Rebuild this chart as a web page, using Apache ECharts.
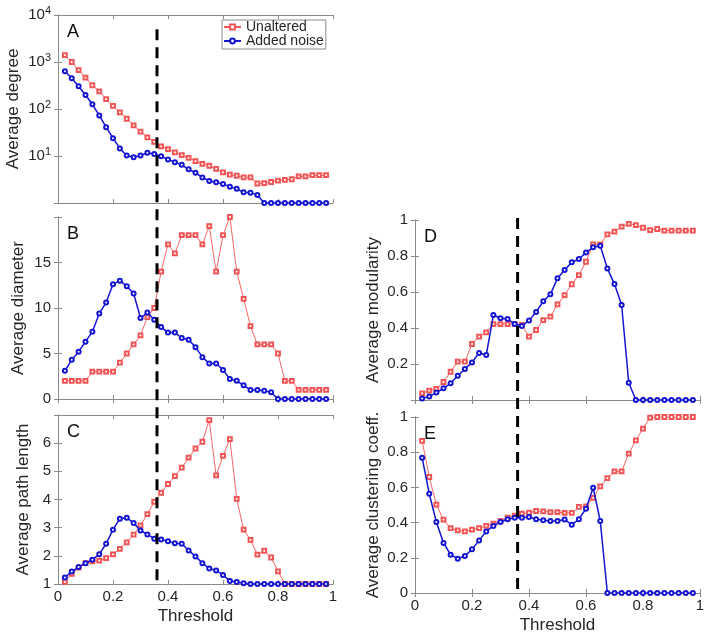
<!DOCTYPE html>
<html>
<head>
<meta charset="utf-8">
<script src="https://cdn.jsdelivr.net/npm/echarts@6/dist/echarts.min.js"></script>
<style>
  html, body { margin: 0; padding: 0; background: #fff; }
  #main { width: 710px; height: 635px; }
</style>
</head>
<body>
<div id="main"></div>
<script>
// thresholds (x) shared by every panel
const thresholds = [0.025, 0.05, 0.075, 0.1, 0.125, 0.15, 0.175, 0.2, 0.225, 0.25,
  0.275, 0.3, 0.325, 0.35, 0.375, 0.4, 0.425, 0.45, 0.475, 0.5,
  0.525, 0.55, 0.575, 0.6, 0.625, 0.65, 0.675, 0.7, 0.725, 0.75,
  0.775, 0.8, 0.825, 0.85, 0.875, 0.9, 0.925, 0.95, 0.975];
const cutoff = 0.36;

// A - average degree (log scale)
const degreeUnaltered = [1400, 1000, 670, 465, 320, 238, 163, 116, 85, 62,
  45, 33, 25, 20, 16, 14, 12, 10.4, 9.1, 7.8,
  6.8, 6.2, 5.3, 4.5, 4.0, 3.8, 3.5, 3.5, 2.6, 2.65,
  2.8, 3.0, 3.1, 3.2, 3.7, 3.7, 3.9, 3.9, 3.9];
const degreeNoise = [637, 452, 305, 199, 126, 73, 41, 24, 14.5, 10.2,
  9.4, 10.2, 11.7, 11, 9.9, 8.4, 7.4, 6.5, 5.2, 4.4,
  3.5, 2.95, 2.76, 2.55, 2.23, 2.0, 1.69, 1.66, 1.48, 1,
  1, 1, 1, 1, 1, 1, 1, 1, 1];
// B - average diameter
const diameterUnaltered = [2, 2, 2, 2, 3, 3, 3, 3, 4, 5,
  6, 7, 9, 10, 14, 17, 16, 18, 18, 18,
  17, 19, 14, 18, 20, 14, 11, 8, 6, 6,
  6, 5, 2, 2, 1, 1, 1, 1, 1];
const diameterNoise = [3.1, 4.3, 5.2, 6.3, 7.4, 9.4, 10.6, 12.6, 13.0, 12.4,
  11.6, 8.9, 9.5, 8.7, 7.9, 7.3, 7.3, 6.7, 6.5, 5.7,
  4.6, 3.9, 3.9, 3.2, 2.2, 2.0, 1.5, 1.0, 1.0, 0.9,
  0.75, 0, 0, 0, 0, 0, 0, 0, 0];
// C - average path length
const pathUnaltered = [1.08, 1.36, 1.58, 1.74, 1.8, 1.83, 1.92, 2.05, 2.25, 2.48,
  2.75, 3.08, 3.48, 3.92, 4.24, 4.55, 4.83, 5.13, 5.49, 5.81,
  6.05, 6.82, 4.86, 5.55, 6.14, 4.02, 2.93, 2.57, 2.04, 2.18,
  1.94, 1.45, 1, 1, 1, 1, 1, 1, 1];
const pathNoise = [1.23, 1.44, 1.6, 1.74, 1.86, 2.06, 2.43, 2.93, 3.32, 3.35,
  3.17, 2.9, 2.76, 2.61, 2.58, 2.52, 2.45, 2.43, 2.19, 1.98,
  1.74, 1.55, 1.48, 1.32, 1.11, 1.07, 1.03, 1, 1, 1,
  1, 1, 1, 1, 1, 1, 1, 1, 1];
// D - average modularity
const modUnaltered = [0.037, 0.052, 0.061, 0.10, 0.157, 0.213, 0.213, 0.311, 0.352, 0.376,
  0.422, 0.422, 0.422, 0.422, 0.417, 0.352, 0.389, 0.444, 0.463, 0.531,
  0.583, 0.643, 0.694, 0.768, 0.865, 0.865, 0.92, 0.935, 0.963, 0.978,
  0.972, 0.957, 0.944, 0.95, 0.941, 0.941, 0.941, 0.941, 0.941];
const modNoise = [0.009, 0.019, 0.041, 0.065, 0.093, 0.135, 0.172, 0.209, 0.261, 0.25,
  0.472, 0.454, 0.45, 0.422, 0.411, 0.441, 0.489, 0.548, 0.587, 0.676,
  0.722, 0.765, 0.783, 0.819, 0.848, 0.857, 0.731, 0.644, 0.528, 0.096,
  0, 0, 0, 0, 0, 0, 0, 0, 0];
// E - average clustering coefficient
const clustUnaltered = [0.864, 0.659, 0.502, 0.417, 0.369, 0.356, 0.35, 0.36, 0.369, 0.381,
  0.394, 0.409, 0.428, 0.439, 0.451, 0.456, 0.466, 0.464, 0.46, 0.46,
  0.455, 0.455, 0.489, 0.492, 0.54, 0.606, 0.653, 0.691, 0.691, 0.792,
  0.867, 0.934, 0.996, 1, 1, 1, 1, 1, 1];
const clustNoise = [0.769, 0.564, 0.403, 0.284, 0.218, 0.195, 0.21, 0.248, 0.299, 0.35,
  0.381, 0.403, 0.419, 0.428, 0.428, 0.432, 0.419, 0.413, 0.409, 0.409,
  0.417, 0.388, 0.419, 0.479, 0.598, 0.409, 0, 0, 0, 0,
  0, 0, 0, 0, 0, 0, 0, 0, 0];

const font = "'Liberation Sans', Arial, sans-serif";
const frameColor = "#8a8a8a";
const textColor = "#262626";
const red = "#f25555";
const blue = "#1414d2";

const panels = [
  { tag: "A", name: "Average degree", box: { left: 58, top: 15, width: 275, height: 188 },
    y: { type: "log", min: 1, max: 10000 }, gap: 36, xLabels: false,
    red: degreeUnaltered, blue: degreeNoise },
  { tag: "B", name: "Average diameter", box: { left: 58, top: 217, width: 275, height: 182 },
    y: { type: "value", min: 0, max: 20, interval: 5 }, hide: 20, gap: 31, xLabels: false,
    red: diameterUnaltered, blue: diameterNoise },
  { tag: "C", name: "Average path length", box: { left: 58, top: 415, width: 275, height: 169 },
    y: { type: "value", min: 1, max: 7, interval: 1 }, hide: 7, gap: 26, xLabels: true,
    red: pathUnaltered, blue: pathNoise },
  { tag: "D", name: "Average modularity", box: { left: 415, top: 220, width: 285, height: 180 },
    y: { type: "value", min: 0, max: 1, interval: 0.2 }, hide: 0, gap: 33, xLabels: false,
    red: modUnaltered, blue: modNoise },
  { tag: "E", name: "Average clustering coeff.", box: { left: 415, top: 417, width: 285, height: 176 },
    y: { type: "value", min: 0, max: 1, interval: 0.2 }, gap: 33, xLabels: true,
    red: clustUnaltered, blue: clustNoise },
];

const tickStyle = { show: true, inside: true, length: 4, lineStyle: { color: frameColor } };
const lineAxis = { show: true, lineStyle: { color: frameColor, width: 1 } };

const grid = [], xAxis = [], yAxis = [], series = [], title = [];
panels.forEach((p, i) => {
  grid.push(Object.assign({ show: false }, p.box));
  title.push({
    text: p.tag, left: p.box.left + 9, top: p.box.top + 8, padding: 0,
    textStyle: { fontSize: 18, fontWeight: "normal", color: "#111", fontFamily: font },
  });
  // bottom and mirrored top x axes
  xAxis.push({
    gridIndex: i, type: "value", min: 0, max: 1, interval: 0.2, position: "bottom",
    axisLine: lineAxis, axisTick: tickStyle, splitLine: { show: false },
    axisLabel: { show: p.xLabels, fontSize: 15, color: textColor, fontFamily: font, margin: 5 },
    name: p.xLabels ? "Threshold" : "", nameLocation: "middle", nameGap: 24,
    nameTextStyle: { fontSize: 17, color: textColor, fontFamily: font },
  });
  xAxis.push({
    gridIndex: i, type: "value", min: 0, max: 1, interval: 0.2, position: "top",
    axisLine: lineAxis, axisTick: tickStyle, splitLine: { show: false },
    axisLabel: { show: false },
  });
  const yBase = Object.assign({ gridIndex: i, splitLine: { show: false },
    axisLine: lineAxis, axisTick: tickStyle }, p.y);
  let fmt;
  if (p.y.type === "log") {
    fmt = v => v === 1 ? "" : "{b|10}{s|" + Math.round(Math.log10(v)) + "}";
  } else {
    fmt = v => (p.hide !== undefined && Math.abs(v - p.hide) < 1e-9) ? "" : String(+v.toFixed(2));
  }
  yAxis.push(Object.assign({}, yBase, {
    position: "left",
    name: p.name, nameLocation: "middle", nameGap: p.gap, nameRotate: 90,
    nameTextStyle: { fontSize: 17, color: textColor, fontFamily: font },
    axisLabel: {
      show: true, fontSize: 15, color: textColor, fontFamily: font, margin: 7, formatter: fmt,
      rich: {
        b: { fontSize: 15, color: textColor, fontFamily: font },
        s: { fontSize: 11, color: textColor, fontFamily: font, verticalAlign: "top", padding: [0, 0, 8, 0] },
      },
    },
  }));
  yAxis.push(Object.assign({}, yBase, { position: "right", axisLabel: { show: false } }));

  series.push({
    name: "Unaltered", type: "line", xAxisIndex: 2 * i, yAxisIndex: 2 * i,
    data: thresholds.map((t, k) => [t, p.red[k]]),
    symbol: "emptyRect", symbolSize: 3.8, showAllSymbol: true,
    lineStyle: { color: red, width: 0.9 },
    itemStyle: { color: red, borderWidth: 0.8 }, z: 2,
  });
  series.push({
    name: "Added noise", type: "line", xAxisIndex: 2 * i, yAxisIndex: 2 * i,
    data: thresholds.map((t, k) => [t, p.blue[k]]),
    symbol: "emptyCircle", symbolSize: 4, showAllSymbol: true,
    lineStyle: { color: blue, width: 1.5 },
    itemStyle: { color: blue, borderWidth: 0.9 }, z: 3,
  });
});

const chart = echarts.init(document.getElementById("main"));
chart.setOption({
  backgroundColor: "#fff",
  animation: false,
  title: title,
  legend: {
    data: ["Unaltered", "Added noise"], orient: "vertical", left: 222, top: 20,
    backgroundColor: "#fff", borderColor: frameColor, borderWidth: 1, borderRadius: 0,
    padding: [0, 2, 1, 1], itemGap: 0, itemWidth: 17, itemHeight: 6,
    textStyle: { fontSize: 14, color: textColor, fontFamily: font, lineHeight: 12 },
  },
  grid: grid,
  xAxis: xAxis,
  yAxis: yAxis,
  series: series,
});

// vertical dashed threshold lines, placed through the axes' own scales
const dash = { stroke: "#000", lineWidth: 3, lineDash: [11, 7] };
const xl = chart.convertToPixel({ xAxisIndex: 0 }, cutoff);
const xr = chart.convertToPixel({ xAxisIndex: 6 }, cutoff);
chart.setOption({
  graphic: [
    { type: "line", z: 100, style: dash, shape: {
      x1: xl, y1: chart.convertToPixel({ yAxisIndex: 0 }, 5000),
      x2: xl, y2: chart.convertToPixel({ yAxisIndex: 4 }, 1) } },
    { type: "line", z: 100, style: dash, shape: {
      x1: xr, y1: chart.convertToPixel({ yAxisIndex: 6 }, 1) - 2,
      x2: xr, y2: chart.convertToPixel({ yAxisIndex: 8 }, 0) } },
  ],
});
</script>
</body>
</html>
